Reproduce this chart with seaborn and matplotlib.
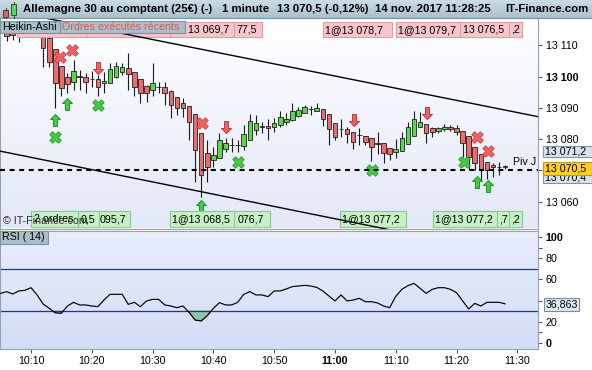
import numpy as np
import pandas as pd
import seaborn as sns
import matplotlib.pyplot as plt
from matplotlib.colors import LinearSegmentedColormap
from matplotlib.patches import Rectangle
from matplotlib.lines import Line2D
from matplotlib.path import Path

sns.set_theme(style="white")
plt.rcParams['font.family'] = ['Liberation Sans', 'DejaVu Sans']

# Heikin-Ashi candles, minutes after 10:00 (10:06 .. 11:28)
candle_min = list(range(6, 89))
opens = [13114.9, 13116.5, 13113.5, 13115.5, 13116.5, 13116.8, 13113.0, 13112.3, 13108.7, 13103.4,
         13099.8, 13098.4, 13100.1, 13099.8, 13099.2, 13099.2, 13097.9, 13098.1, 13100.0, 13101.6,
         13102.7, 13101.6, 13099.1, 13097.0, 13095.7, 13096.8, 13096.6, 13095.5, 13093.4, 13091.5,
         13090.6, 13088.1, 13082.1, 13075.5, 13073.4, 13073.9, 13076.9, 13078.0, 13078.1, 13077.8,
         13079.7, 13082.9, 13084.0, 13084.2, 13083.8, 13084.5, 13085.6, 13086.0, 13087.3, 13088.4,
         13089.5, 13089.1, 13089.6, 13088.1, 13085.3, 13083.2, 13083.2, 13082.4, 13081.3, 13081.1,
         13080.3, 13078.7, 13078.7, 13077.1, 13076.0, 13076.3, 13078.5, 13081.0, 13083.8, 13084.9,
         13083.5, 13082.7, 13083.2, 13083.8, 13083.5, 13082.7, 13081.0, 13077.6, 13075.3, 13072.8,
         13071.8, 13071.1, 13071.0]
highs = [13116.8, 13117.0, 13117.0, 13117.2, 13117.2, 13117.2, 13114.0, 13113.5, 13108.7, 13103.4,
         13101.2, 13105.3, 13102.1, 13101.2, 13101.8, 13100.5, 13101.6, 13104.4, 13104.8, 13104.4,
         13107.4, 13101.6, 13099.1, 13097.3, 13104.4, 13098.4, 13098.4, 13095.7, 13093.4, 13093.1,
         13090.6, 13088.1, 13082.1, 13079.7, 13077.6, 13082.0, 13080.5, 13080.4, 13079.7, 13084.5,
         13088.1, 13087.7, 13085.6, 13086.4, 13086.7, 13089.1, 13088.3, 13091.5, 13090.4, 13090.9,
         13090.6, 13091.7, 13089.6, 13088.1, 13085.3, 13086.4, 13084.0, 13082.4, 13083.5, 13081.1,
         13080.3, 13082.4, 13078.7, 13077.1, 13080.0, 13082.3, 13085.6, 13089.0, 13088.8, 13084.9,
         13083.8, 13084.0, 13084.9, 13084.5, 13084.5, 13082.7, 13081.0, 13077.6, 13075.3, 13072.8,
         13072.3, 13072.8, 13071.8]
lows = [13111.5, 13111.7, 13111.2, 13113.5, 13114.0, 13113.5, 13103.2, 13103.2, 13090.0, 13093.8,
        13094.8, 13095.7, 13095.7, 13094.9, 13096.8, 13093.8, 13094.7, 13097.9, 13099.5, 13100.5,
        13095.7, 13093.8, 13091.5, 13092.0, 13093.8, 13094.7, 13090.9, 13086.7, 13087.7, 13087.2,
        13079.7, 13066.4, 13061.6, 13066.4, 13071.2, 13073.9, 13076.0, 13076.0, 13076.0, 13076.5,
        13079.7, 13081.3, 13081.9, 13079.7, 13082.4, 13084.0, 13084.5, 13085.9, 13087.2, 13088.3,
        13087.7, 13089.1, 13084.2, 13078.1, 13079.7, 13080.8, 13078.7, 13076.8, 13078.1, 13078.1,
        13073.1, 13075.3, 13072.5, 13073.4, 13073.9, 13076.3, 13078.5, 13081.0, 13083.8, 13078.9,
        13080.7, 13082.0, 13082.6, 13082.6, 13081.3, 13074.3, 13070.2, 13070.2, 13067.0, 13067.2,
        13068.0, 13068.6, 13070.4]
closes = [13113.0, 13113.3, 13115.5, 13117.0, 13117.0, 13116.0, 13109.1, 13104.7, 13097.9, 13096.3,
          13097.5, 13101.8, 13100.0, 13098.4, 13099.1, 13096.6, 13098.6, 13102.3, 13103.4, 13103.2,
          13100.7, 13096.6, 13094.7, 13094.7, 13097.9, 13096.7, 13094.7, 13090.9, 13089.9, 13089.9,
          13085.6, 13076.5, 13068.6, 13071.0, 13075.0, 13079.7, 13078.8, 13078.1, 13078.2, 13081.7,
          13085.8, 13085.3, 13084.1, 13083.5, 13085.3, 13087.0, 13086.6, 13089.0, 13089.3, 13090.2,
          13089.6, 13089.9, 13086.4, 13083.2, 13080.8, 13083.1, 13081.7, 13079.2, 13081.2, 13079.2,
          13077.4, 13078.6, 13075.7, 13075.2, 13076.8, 13080.3, 13083.8, 13086.4, 13085.6, 13081.9,
          13082.4, 13083.5, 13084.0, 13083.2, 13082.4, 13078.7, 13074.4, 13072.3, 13070.2, 13070.2,
          13071.0, 13071.0, 13071.3]

# RSI(14), minutes after 10:00 (10:05 .. 11:28)
rsi_min = list(range(5, 89))
rsi_vals = [46.8, 48.4, 46.2, 49.1, 49.7, 52.2, 45.3, 36.7, 32.6, 28.3,
            28.0, 34.8, 38.3, 35.8, 35.8, 34.8, 34.2, 40.5, 45.9, 45.9,
            45.9, 36.4, 38.3, 34.2, 39.6, 41.1, 41.1, 35.8, 34.8, 33.2,
            34.8, 28.8, 21.5, 20.6, 25.6, 32.6, 38.0, 35.8, 35.8, 38.3,
            45.9, 48.4, 45.3, 45.3, 43.7, 49.1, 49.1, 51.0, 53.2, 53.8,
            54.4, 53.8, 52.5, 49.1, 44.3, 39.6, 45.3, 39.6, 40.5, 42.1,
            38.9, 38.9, 37.7, 34.8, 33.2, 44.0, 50.6, 54.1, 56.3, 51.6,
            46.8, 50.6, 52.2, 52.2, 50.6, 47.5, 39.6, 32.0, 37.3, 34.8,
            38.3, 38.3, 38.3, 36.863]

pivot_level = 13070.2
trend_min = [4.9, 93.4]
upper_trend = [13121.6, 13087.2]
lower_trend = [13076.2, 13041.5]

buy_arrow_min = [13.9, 15.9, 38.0, 83.3, 85.2]
buy_arrow_price = [13086.2, 13091.1, 13058.5, 13066.2, 13065.1]
sell_arrow_min = [21.0, 42.0, 63.1, 75.2]
sell_arrow_price = [13102.7, 13083.8, 13086.0, 13088.3]
red_x_min = [14.85, 16.8, 38.1, 83.3, 85.2]
red_x_price = [13106.4, 13108.4, 13085.3, 13080.8, 13076.1]
green_x_min = [13.9, 21.0, 44.0, 66.1, 81.3]
green_x_price = [13080.7, 13090.8, 13072.8, 13070.0, 13072.6]

price_ticks = [13060, 13070, 13080, 13090, 13100, 13110]
time_ticks = [10, 20, 30, 40, 50, 60, 70, 80, 90]
time_labels = ['10:10', '10:20', '10:30', '10:40', '10:50', '11:00', '11:10', '11:20', '11:30']
rsi_ticks = [0, 20, 40, 60, 80, 100]

FS = 7.7
W, H = 592.0, 370.0


def box_axes(x0, y0, x1, y1):
    return [x0 / W, 1 - y1 / H, (x1 - x0) / W, (y1 - y0) / H]


def gradient(a, top, bottom):
    cmap = LinearSegmentedColormap.from_list('g', [top, bottom])
    a.imshow(np.linspace(0, 1, 256).reshape(-1, 1), cmap=cmap, aspect='auto',
             extent=[0, 1, 0, 1], transform=a.transAxes, zorder=0, interpolation='bilinear')


fig = plt.figure(figsize=(5.92, 3.70), dpi=100)
ax_title = fig.add_axes(box_axes(0, 0, 592, 18))
ax = fig.add_axes(box_axes(0, 18, 538, 228.5))
ax_rsi = fig.add_axes(box_axes(0, 230.5, 538, 349))

# title bar
gradient(ax_title, '#cddce4', '#a9c1cd')
ax_title.set_xlim(0, 1)
ax_title.set_ylim(0, 1)
ax_title.axis('off')


def fig_box(x0, y0, x1, y1, face, edge, z, lw=0.8):
    fig.add_artist(Rectangle((x0 / W, 1 - y1 / H), (x1 - x0) / W, (y1 - y0) / H,
                             transform=fig.transFigure, facecolor=face, edgecolor=edge,
                             lw=lw, zorder=z))


def fig_text(x, y, s, z=12, **kw):
    fig.text(x / W, 1 - y / H, s, va='center', ha='left', zorder=z, **kw)


fig.add_artist(Line2D([0, 1], [1 - 18 / H, 1 - 18 / H], transform=fig.transFigure,
                      color='#7d95a3', lw=0.8, zorder=5))
# small candle icon
fig.add_artist(Line2D([5.8 / W, 5.8 / W], [1 - 8 / H, 1 - 18 / H], transform=fig.transFigure,
                      color='#333', lw=0.7, zorder=6))
fig.add_artist(Line2D([13.5 / W, 13.5 / W], [1 - 1.5 / H, 1 - 17.5 / H], transform=fig.transFigure,
                      color='#333', lw=0.7, zorder=6))
fig_box(3.3, 10, 8.3, 16.5, '#e86060', '#333', 7, lw=0.6)
fig_box(11, 4, 16, 15, '#58d858', '#333', 7, lw=0.6)

title_parts = [(23, 'Allemagne 30 au comptant (25€) (-)'), (222, '1 minute'),
               (277, '13 070,5 (-0,12%)'), (375, '14 nov. 2017 11:28:25'), (505, 'IT-Finance.com')]
for x, s in title_parts:
    fig_text(x, 9.5, s, fontsize=8.2, fontweight='bold', color='black')

# price panel
gradient(ax, '#ffffff', '#e3e8f8')
df = pd.DataFrame(dict(minute=candle_min, open=opens, high=highs, low=lows, close=closes))
up = df['close'] >= df['open']
body_bottom = np.minimum(df['open'], df['close'])
body_height = np.maximum((df['close'] - df['open']).abs(), 0.12)
ax.vlines(df['minute'], df['low'], df['high'], color='#1a1a1a', lw=0.8, zorder=3)
ax.bar(df['minute'], body_height, bottom=body_bottom, width=0.75,
       color=np.where(up, '#5cd64e', '#ec6c6c'), edgecolor='#202020', linewidth=0.6, zorder=3.5)

ax.axhline(pivot_level, color='black', lw=1.5, ls=(0, (2.4, 2.2)), zorder=4.6)

arrow_verts = [(0, 6), (5, 1), (2, 1), (2, -6), (-2, -6), (-2, 1), (-5, 1), (0, 6)]
codes = [Path.MOVETO] + [Path.LINETO] * 6 + [Path.CLOSEPOLY]
up_arrow = Path(arrow_verts, codes)
down_arrow = Path([(x, -y) for x, y in arrow_verts], codes)

ax.scatter(buy_arrow_min, buy_arrow_price, marker=up_arrow, s=75, c='#45c845',
           edgecolors='#148a14', linewidths=0.6, zorder=4)
ax.scatter(sell_arrow_min, sell_arrow_price, marker=down_arrow, s=75, c='#f06262',
           edgecolors='#b82a2a', linewidths=0.6, zorder=4)
ax.scatter(red_x_min, red_x_price, marker='X', s=70, c='#f06262',
           edgecolors='#c03838', linewidths=0.5, zorder=4)
ax.scatter(green_x_min, green_x_price, marker='X', s=70, c='#45c845',
           edgecolors='#1a9a1a', linewidths=0.5, zorder=4.5)

sns.lineplot(x=trend_min, y=upper_trend, ax=ax, color='black', lw=1.0, zorder=30)
sns.lineplot(x=trend_min, y=lower_trend, ax=ax, color='black', lw=1.0, zorder=30)


def to_ax(x, y):
    return x / 538.0, (228.5 - y) / 210.5


def order_box(x0, y0, x1, y1, text, text_x, face, edge, z):
    ax0, ay0 = to_ax(x0, y1)
    ax.add_patch(Rectangle((ax0, ay0), (x1 - x0) / 538.0, (y1 - y0) / 210.5,
                           transform=ax.transAxes, facecolor=face, edgecolor=edge,
                           lw=0.8, zorder=z, clip_on=False))
    if text:
        tx, ty = to_ax(text_x, (y0 + y1) / 2 + 0.5)
        ax.text(tx, ty, text, transform=ax.transAxes, fontsize=FS, color='black',
                ha='left', va='center', zorder=z + 0.5, clip_on=False)


# order tags: later tags slide under earlier ones, only the visible part of the text is kept
pink_boxes = [(17, 86, '', 0), (86, 170, '', 0), (168.5, 234, '13 069,7', 188),
              (196.5, 262, '77,5', 236.6), (322.7, 391.7, '1@13 078,7', 325.2),
              (395.7, 460, '1@13 079,7', 398.2), (443.5, 509, '13 076,5', 463),
              (458.8, 521.7, ',2', 510.7)]
for i, (x0, x1, s, tx) in enumerate(pink_boxes):
    order_box(x0, 21.7, x1, 36.7, s, tx, '#f7c6cd', '#e39ca7', 20 - i)

green_boxes = [(31, 78.3, '2 ordres', 33.5), (34.7, 99.3, '0,5', 80.7), (65.9, 130.3, '095,7', 100),
               (170, 234.3, '1@13 068,5', 172.5), (203.2, 270, '076,7', 237.3),
               (340, 405.7, '1@13 077,2', 342.5), (432.7, 497.3, '1@13 077,2', 435.2),
               (448, 509, ',7', 499.5), (458.8, 521.7, ',2', 510.7)]
for i, (x0, x1, s, tx) in enumerate(green_boxes):
    order_box(x0, 210.7, x1, 226.7, s, tx, '#c5f1c5', '#84cf84', 20 - i)

wx, wy = to_ax(3, 221.5)
ax.text(wx, wy, '© IT-Finance.com', transform=ax.transAxes, fontsize=FS, color='#303030',
        ha='left', va='center', zorder=35)
px, py = to_ax(536.5, 162)
ax.text(px, py, 'Piv J', transform=ax.transAxes, fontsize=FS, color='black',
        ha='right', va='center', zorder=35)

ax.set_xlim(4.9, 93.4)
ax.set_ylim(13051.47, 13118.72)
ax.set_xticks([])
ax.yaxis.tick_right()
ax.set_yticks(price_ticks)
# the 13 070 label sits under the last-price boxes, so it stays blank
ax.set_yticklabels(['' if v == 13070 else f"{v:,}".replace(',', ' ') for v in price_ticks])
for lab, v in zip(ax.get_yticklabels(), price_ticks):
    lab.set_fontweight('bold' if v % 100 == 0 else 'normal')
ax.tick_params(axis='y', direction='out', length=3, width=0.8, color='#555', pad=2.5,
               labelsize=FS, labelcolor='black')
for sp in ax.spines.values():
    sp.set_color('#8ea3b3')
    sp.set_linewidth(0.8)

# label tabs over the price panel
fig_box(0, 20.7, 60, 33.3, '#a9bfca', '#7b93a0', 40)
fig_text(2.5, 27.5, 'Heikin-Ashi', z=41, fontsize=FS, color='black')
fig_box(60, 20.7, 185, 33.3, '#a9bfca', '#7b93a0', 40)
fig_text(62.5, 27.5, 'Ordres exécutés récents', z=41, fontsize=FS, color='#e35858')

# right-hand price value boxes
fig_box(542.5, 171, 591.5, 183, '#d8e3ef', '#8196a8', 8)
fig_text(545, 178, '13 070,4', z=9, fontsize=FS, color='black')
fig_box(542.5, 161.7, 591.5, 175, '#ffcf26', '#b89a20', 10)
fig_text(545, 168.5, '13 070,5', z=11, fontsize=FS, color='black')
fig_box(542.5, 146, 591.5, 157.3, '#d8e3ef', '#8196a8', 10)
fig_text(545, 151.8, '13 071,2', z=11, fontsize=FS, color='black')

# RSI panel
gradient(ax_rsi, '#e9eefc', '#d3ddf6')
rsi_arr = np.array(rsi_vals)
ax_rsi.fill_between(rsi_min, rsi_arr, 30, where=rsi_arr < 30, interpolate=True,
                    facecolor='#93c3a5', edgecolor='#5d8f6e', lw=0.5, zorder=2)
ax_rsi.axhline(70, color='#2626d6', lw=0.9, zorder=2.5)
ax_rsi.axhline(30, color='#2626d6', lw=0.9, zorder=2.5)
sns.lineplot(x=rsi_min, y=rsi_vals, ax=ax_rsi, color='black', lw=0.85, zorder=3)
ax_rsi.set_xlim(4.9, 93.4)
ax_rsi.set_ylim(-5.98, 106.45)
ax_rsi.yaxis.tick_right()
ax_rsi.set_yticks(rsi_ticks)
# the 40 label is covered by the current-value box
ax_rsi.set_yticklabels(['' if v == 40 else str(v) for v in rsi_ticks])
for lab, v in zip(ax_rsi.get_yticklabels(), rsi_ticks):
    lab.set_fontweight('bold' if v in (0, 100) else 'normal')
ax_rsi.set_yticks([10, 90], minor=True)
ax_rsi.tick_params(axis='y', which='both', direction='out', length=3, width=0.8, color='#555',
                   pad=2.5, labelsize=FS, labelcolor='black')
ax_rsi.set_xticks(time_ticks)
ax_rsi.set_xticklabels(time_labels)
for lab, s in zip(ax_rsi.get_xticklabels(), time_labels):
    lab.set_fontweight('bold' if s.endswith(':00') else 'normal')
ax_rsi.tick_params(axis='x', direction='out', length=3, width=0.8, color='#555', pad=2,
                   labelsize=FS, labelcolor='black', bottom=True)
ax_rsi.set_xlabel('')
ax_rsi.set_ylabel('')
ax.set_xlabel('')
ax.set_ylabel('')
for sp in ax_rsi.spines.values():
    sp.set_color('#8ea3b3')
    sp.set_linewidth(0.8)

fig_box(0, 230.5, 48, 244, '#a9bfca', '#7b93a0', 40)
fig_text(2.5, 237.5, 'RSI ( 14)', z=41, fontsize=FS, color='black')
fig_box(544, 297.7, 579, 311, '#dfe8f5', '#7a8ea0', 10)
fig_text(545.5, 304.5, '36,863', z=11, fontsize=FS, color='black')

fig.savefig('out.png', dpi=100)
